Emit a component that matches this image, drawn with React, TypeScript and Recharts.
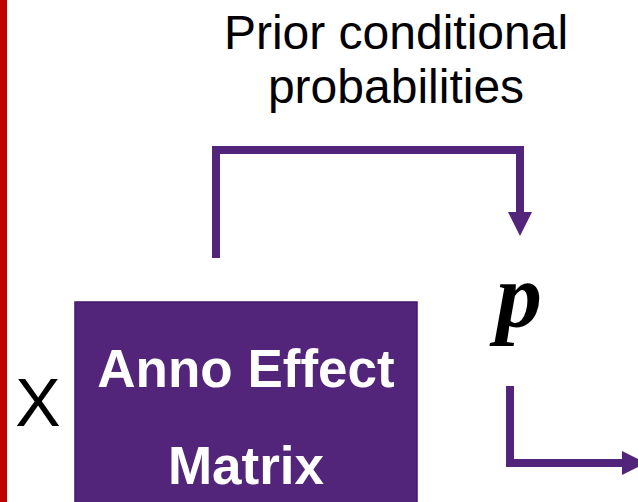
import React from "react";
import {
  ComposedChart,
  XAxis,
  YAxis,
  Scatter,
  ReferenceArea,
  ReferenceLine,
} from "recharts";

// Diagram coordinates (x: 0..638, y: 0..502, top-down)
const bracketPath = [
  { x: 216, y: 258 },
  { x: 216, y: 150 },
  { x: 520, y: 150 },
  { x: 520, y: 214 },
];
const outputPath = [
  { x: 510, y: 386 },
  { x: 510, y: 463 },
  { x: 624, y: 463 },
];
const downHeads = [{ x: 520, y: 212 }];
const rightHeads = [{ x: 622, y: 463 }];
const titleLines = [
  { x: 396, y: 49, text: "Prior conditional" },
  { x: 396, y: 103, text: "probabilities" },
];
const boxLines = [
  { x: 246, y: 387, text: "Anno Effect" },
  { x: 246, y: 484, text: "Matrix" },
];
const timesLabel = [{ x: 38, y: 426, text: "X" }];
const pLabel = [{ x: 519, y: 327, text: "p" }];
const boxX = [75, 417];
const boxY = [302, 505];
const separatorX = 3.5;

const PURPLE = "#52247A";
const RED = "#C00000";
const SANS = "'Liberation Sans', Arial, sans-serif";

const Empty = () => <g />;

const makeText =
  (style: React.SVGProps<SVGTextElement>) =>
  (props: any) => (
    <text x={props.cx} y={props.cy} textAnchor="middle" {...style}>
      {props.payload.text}
    </text>
  );

const DownHead = (props: any) => {
  const { cx, cy } = props;
  return (
    <polygon
      points={`${cx - 12},${cy} ${cx + 12},${cy} ${cx},${cy + 24}`}
      fill={PURPLE}
    />
  );
};
const RightHead = (props: any) => {
  const { cx, cy } = props;
  return (
    <polygon
      points={`${cx},${cy - 12} ${cx},${cy + 12} ${cx + 24},${cy}`}
      fill={PURPLE}
    />
  );
};

export default function App() {
  return (
    <div style={{ position: "absolute", left: 0, top: 0, background: "#fff" }}>
      <ComposedChart
        width={638}
        height={502}
        margin={{ top: 0, right: 0, bottom: 0, left: 0 }}
      >
        <XAxis type="number" dataKey="x" domain={[0, 638]} hide allowDataOverflow />
        <YAxis
          type="number"
          dataKey="y"
          domain={[0, 502]}
          reversed
          hide
          allowDataOverflow
        />
        <ReferenceLine
          x={separatorX}
          stroke={RED}
          strokeWidth={7}
          ifOverflow="visible"
        />
        <ReferenceArea
          x1={boxX[0]}
          x2={boxX[1]}
          y1={boxY[0]}
          y2={boxY[1]}
          fill={PURPLE}
          fillOpacity={1}
          stroke="#43196A"
          strokeWidth={1.5}
          ifOverflow="visible"
        />
        <Scatter
          data={bracketPath}
          line={{ stroke: PURPLE, strokeWidth: 8 }}
          shape={Empty}
          isAnimationActive={false}
        />
        <Scatter
          data={outputPath}
          line={{ stroke: PURPLE, strokeWidth: 8 }}
          shape={Empty}
          isAnimationActive={false}
        />
        <Scatter data={downHeads} shape={DownHead} isAnimationActive={false} />
        <Scatter data={rightHeads} shape={RightHead} isAnimationActive={false} />
        <Scatter
          data={titleLines}
          shape={makeText({ fontFamily: SANS, fontSize: 48, fill: "#000" })}
          isAnimationActive={false}
        />
        <Scatter
          data={boxLines}
          shape={makeText({
            fontFamily: SANS,
            fontSize: 53,
            fontWeight: "bold",
            fill: "#fff",
          })}
          isAnimationActive={false}
        />
        <Scatter
          data={timesLabel}
          shape={makeText({ fontFamily: SANS, fontSize: 68, fill: "#000" })}
          isAnimationActive={false}
        />
        <Scatter
          data={pLabel}
          shape={makeText({
            fontFamily: "'Liberation Serif', 'DejaVu Serif', serif",
            fontSize: 92,
            fontWeight: "bold",
            fontStyle: "italic",
            fill: "#000",
          })}
          isAnimationActive={false}
        />
      </ComposedChart>
    </div>
  );
}
